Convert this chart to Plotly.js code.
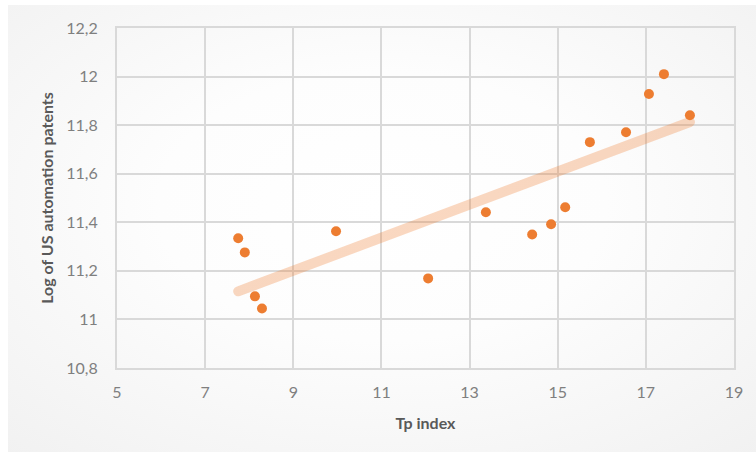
<!DOCTYPE html>
<html>
<head>
<meta charset="utf-8">
<script src="https://cdn.plot.ly/plotly-3.0.1.min.js"></script>
<style>
  html, body { margin: 0; padding: 0; background: #ffffff; }
  #wrap { position: relative; width: 756px; height: 454px; overflow: hidden; }
  #bg { position: absolute; left: 8px; top: 5px; width: 748px; height: 447px;
        background: radial-gradient(ellipse 75% 75% at 50% 45%, #ffffff 0%, #fdfdfd 40%, #f1f1f1 100%); }
  #chart { position: absolute; left: 0; top: 0; width: 756px; height: 454px; }
  .trend path.js-line { stroke-linecap: round; }
</style>
</head>
<body>
<div id="wrap">
  <div id="bg"></div>
  <div id="chart"></div>
</div>
<script>
// Data
const tpIndex = [7.75, 7.90, 8.13, 8.29, 9.97, 12.06, 13.37, 14.42, 14.85, 15.17, 15.73, 16.55, 17.07, 17.41, 18.00];
const logPatents = [11.334, 11.276, 11.095, 11.045, 11.363, 11.169, 11.441, 11.350, 11.392, 11.462, 11.730, 11.771, 11.928, 12.010, 11.841];

const xTickVals = [5, 7, 9, 11, 13, 15, 17, 19];
const xTickText = ['5', '7', '9', '11', '13', '15', '17', '19'];
const yTickVals = [10.8, 11, 11.2, 11.4, 11.6, 11.8, 12, 12.2];
const yTickText = ['10,8', '11', '11,2', '11,4', '11,6', '11,8', '12', '12,2'];

// Linear trendline (least squares), as Excel does
const n = tpIndex.length;
const mx = tpIndex.reduce((a, b) => a + b, 0) / n;
const my = logPatents.reduce((a, b) => a + b, 0) / n;
let sxy = 0, sxx = 0;
for (let i = 0; i < n; i++) { sxy += (tpIndex[i] - mx) * (logPatents[i] - my); sxx += (tpIndex[i] - mx) ** 2; }
const slope = sxy / sxx, intercept = my - slope * mx;
const xMin = Math.min(...tpIndex), xMax = Math.max(...tpIndex);
const trendX = [xMin, xMax];
const trendY = trendX.map(x => intercept + slope * x);

const font = "Lato, 'Open Sans', sans-serif";
const gridColor = '#d9d9d9';

const traces = [
  { x: trendX, y: trendY, mode: 'lines', type: 'scatter', hoverinfo: 'skip',
    line: { color: 'rgba(237,125,49,0.3)', width: 10 }, showlegend: false },
  { x: tpIndex, y: logPatents, mode: 'markers', type: 'scatter',
    marker: { color: '#ed7d31', size: 10 }, showlegend: false }
];

const layout = {
  width: 756, height: 454,
  margin: { l: 117, r: 22, t: 28, b: 86 },
  paper_bgcolor: 'rgba(0,0,0,0)',
  plot_bgcolor: 'rgba(0,0,0,0)',
  showlegend: false,
  xaxis: {
    range: [5, 19], tickvals: xTickVals, ticktext: xTickText,
    showgrid: true, gridcolor: gridColor, gridwidth: 2,
    showline: true, linecolor: gridColor, linewidth: 2, mirror: true,
    zeroline: false, ticks: '', ticklabelstandoff: 9,
    tickfont: { family: font, size: 16, color: '#7f7f7f' },
    title: { text: 'Tp index', standoff: 18, font: { family: font, size: 16, color: '#595959', weight: 'bold' } }
  },
  yaxis: {
    range: [10.8, 12.2], tickvals: yTickVals, ticktext: yTickText,
    showgrid: true, gridcolor: gridColor, gridwidth: 2,
    showline: true, linecolor: gridColor, linewidth: 2, mirror: true,
    zeroline: false, ticks: '', ticklabelstandoff: 14,
    tickfont: { family: font, size: 16, color: '#7f7f7f' },
    title: { text: 'Log of US automation patents', standoff: 9, font: { family: font, size: 16, color: '#595959', weight: 'bold' } }
  }
};

Plotly.newPlot('chart', traces, layout, { displayModeBar: false, staticPlot: true }).then(() => {
  const tr = document.querySelectorAll('#chart .scatterlayer .trace');
  if (tr.length) tr[0].classList.add('trend');
});
</script>
</body>
</html>
